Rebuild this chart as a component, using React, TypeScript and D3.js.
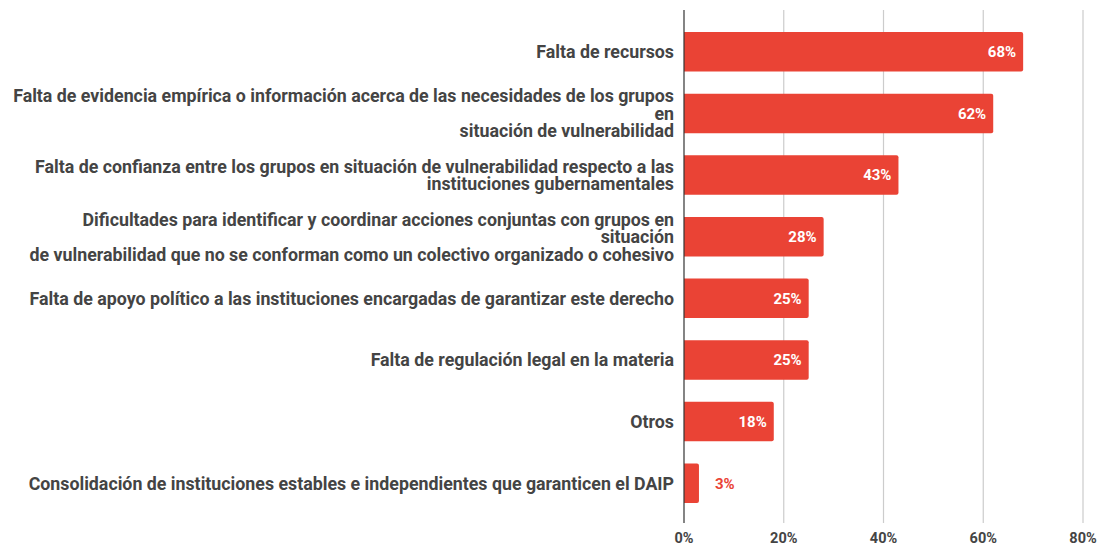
import React, { useEffect, useRef } from "react";
import * as d3 from "d3";

const categories: string[][] = [
  ["Falta de recursos"],
  [
    "Falta de evidencia empírica o información acerca de las necesidades de los grupos",
    "en",
    "situación de vulnerabilidad",
  ],
  [
    "Falta de confianza entre los grupos en situación de vulnerabilidad respecto a las",
    "instituciones gubernamentales",
  ],
  [
    "Dificultades para identificar y coordinar acciones conjuntas con grupos en",
    "situación",
    "de vulnerabilidad que no se conforman como un colectivo organizado o cohesivo",
  ],
  ["Falta de apoyo político a las instituciones encargadas de garantizar este derecho"],
  ["Falta de regulación legal en la materia"],
  ["Otros"],
  ["Consolidación de instituciones estables e independientes que garanticen el DAIP"],
];
const values = [68, 62, 43, 28, 25, 25, 18, 3];
const ticks = [0, 20, 40, 60, 80];

const App = () => {
  const ref = useRef<SVGSVGElement>(null);

  useEffect(() => {
    draw();
  });

  let draw = () => {
    const width = 1107;
    const height = 546;
    const svg = d3.select(ref.current);
    svg.selectAll("*").remove();

    const red = "#ea4335";
    const textColor = "#444444";
    const font = "Roboto, 'Noto Sans', sans-serif";

    const x = d3.scaleLinear().domain([0, 80]).range([684, 1083]);
    const y = d3
      .scaleBand<number>()
      .domain(values.map((_, i) => i))
      .range([21, 514])
      .paddingInner(0.36)
      .paddingOuter(0.18);

    // grid
    svg
      .append("g")
      .selectAll("line")
      .data(ticks.slice(1))
      .join("line")
      .attr("x1", (d) => x(d))
      .attr("x2", (d) => x(d))
      .attr("y1", 10)
      .attr("y2", 523)
      .attr("stroke", "#cccccc")
      .attr("stroke-width", 1.2);

    // bars with rounded right end
    const r = 2;
    svg
      .append("g")
      .selectAll("path")
      .data(values)
      .join("path")
      .attr("d", (d, i) => {
        const x0 = x(0);
        const x1 = x(d);
        const y0 = y(i)!;
        const h = y.bandwidth();
        return `M${x0},${y0}H${x1 - r}Q${x1},${y0} ${x1},${y0 + r}V${y0 + h - r}Q${x1},${y0 + h} ${x1 - r},${y0 + h}H${x0}Z`;
      })
      .attr("fill", red);

    // zero axis
    svg
      .append("line")
      .attr("x1", x(0))
      .attr("x2", x(0))
      .attr("y1", 10)
      .attr("y2", 523)
      .attr("stroke", "#333333")
      .attr("stroke-width", 1.2);

    // value labels
    svg
      .append("g")
      .selectAll("text")
      .data(values)
      .join("text")
      .attr("x", (d) => (d > 8 ? x(d) - 7 : x(d) + 16))
      .attr("y", (_, i) => y(i)! + y.bandwidth() / 2)
      .attr("dy", "0.36em")
      .attr("text-anchor", (d) => (d > 8 ? "end" : "start"))
      .attr("fill", (d) => (d > 8 ? "#ffffff" : red))
      .style("font-family", font)
      .style("font-weight", "bold")
      .style("font-size", "15px")
      .text((d) => d + "%");

    // category labels
    const lineH = 17.5;
    const labels = svg
      .append("g")
      .selectAll("text")
      .data(categories)
      .join("text")
      .attr("text-anchor", "end")
      .attr("fill", textColor)
      .style("font-family", font)
      .style("font-weight", "bold")
      .style("font-size", "17.8px");
    labels.each(function (lines, i) {
      const cy = y(i)! + y.bandwidth() / 2;
      const top = cy - ((lines.length - 1) * lineH) / 2;
      d3.select(this)
        .selectAll("tspan")
        .data(lines)
        .join("tspan")
        .attr("x", 674)
        .attr("y", (_, j) => top + j * lineH)
        .attr("dy", "0.36em")
        .text((l) => l);
    });

    // tick labels
    svg
      .append("g")
      .selectAll("text")
      .data(ticks)
      .join("text")
      .attr("x", (d) => x(d))
      .attr("y", 543)
      .attr("text-anchor", "middle")
      .attr("fill", textColor)
      .style("font-family", font)
      .style("font-weight", "bold")
      .style("font-size", "14.5px")
      .text((d) => d + "%");

    svg.attr("width", width).attr("height", height);
  };

  return (
    <svg
      ref={ref}
      style={{ position: "absolute", left: 0, top: 0, background: "#fff" }}
    />
  );
};

export default App;
